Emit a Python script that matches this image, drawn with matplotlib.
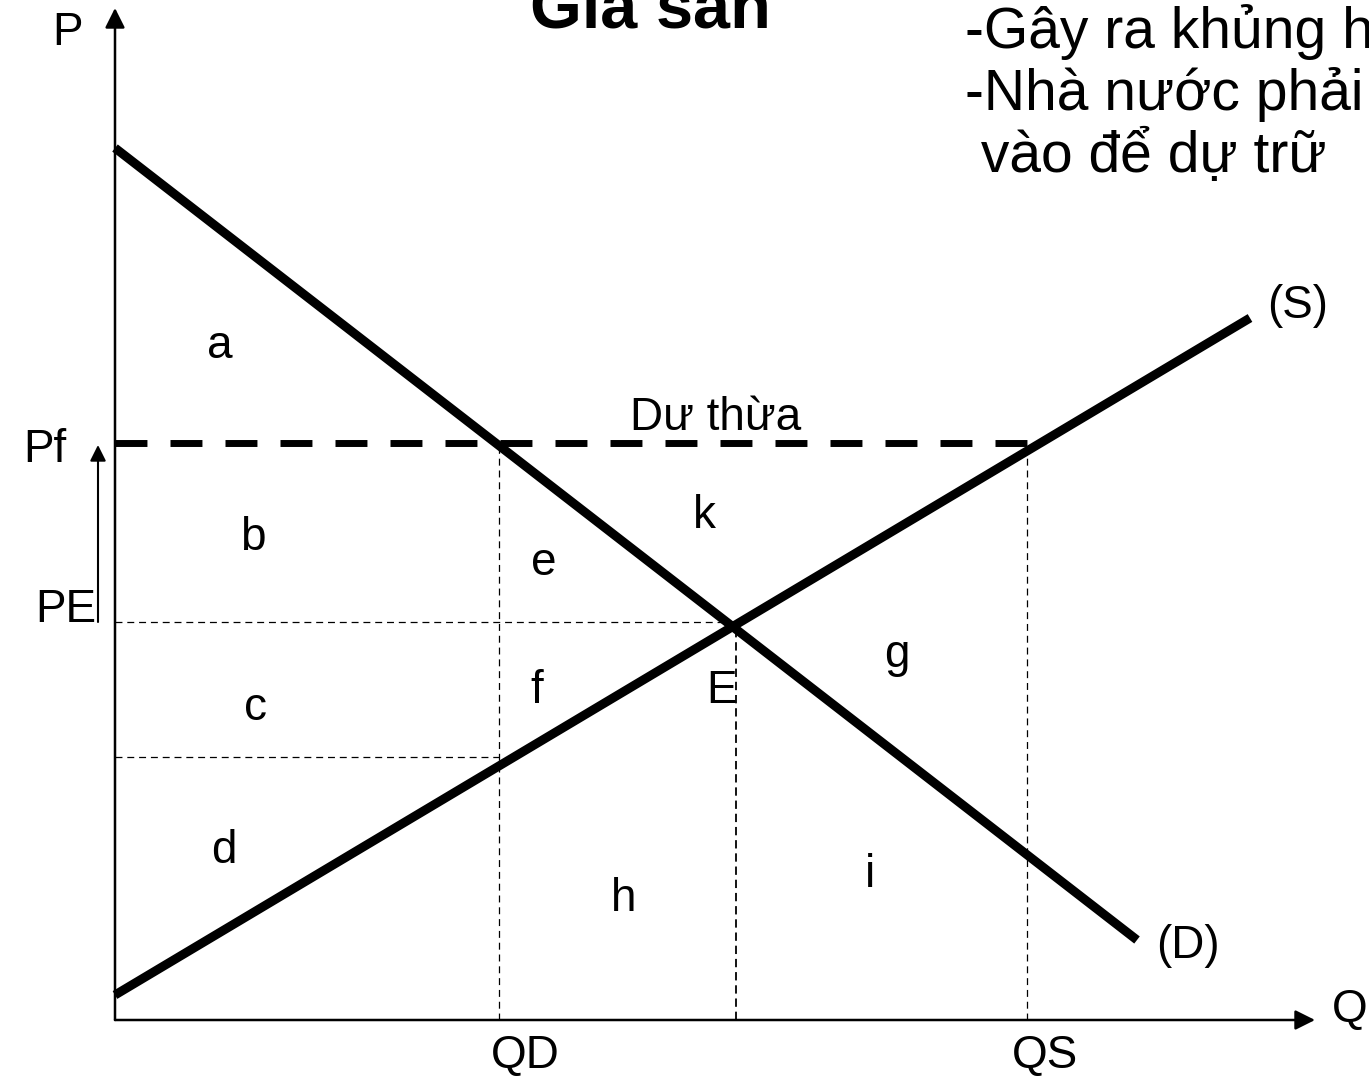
import matplotlib.pyplot as plt

plt.rcParams['font.family'] = ['Liberation Sans', 'DejaVu Sans']
plt.rcParams['lines.scale_dashes'] = False

# curves (Q, P) end points, origin at axis corner
demand_q = [0, 1022]
demand_p = [872, 80]
supply_q = [0, 1135]
supply_p = [25, 702]

Pf = 577
PE = 398
P_low = 263
QD = 384
QE = 621
QS = 912

area_labels = ['a', 'b', 'c', 'd', 'e', 'f', 'E', 'k', 'g', 'h', 'i']
area_q = [105, 138, 141, 109, 429, 422, 607, 589, 782, 509, 755]
area_p = [662, 470, 300, 157, 445, 317, 317, 492, 353, 109, 133]

title = 'Giá sàn'
notes = ['-Gây ra khủng hoảng thừa', '-Nhà nước phải mua', ' vào để dự trữ']

fig = plt.figure(figsize=(13.69, 10.76), dpi=100)
ax = fig.add_axes([0, 0, 1, 1])
ax.set_xlim(-115, 1254)
ax.set_ylim(-56, 1020)
ax.axis('off')

# axes with arrows
arr = dict(arrowstyle='-|>', mutation_scale=30, lw=1.8, color='black',
           shrinkA=0, shrinkB=0)
ax.annotate('', xy=(0, 1012), xytext=(0, 0), arrowprops=arr)
ax.annotate('', xy=(1200, 0), xytext=(0, 0), arrowprops=arr)
ax.annotate('', xy=(-17, 575), xytext=(-17, PE),
            arrowprops=dict(arrowstyle='-|>', mutation_scale=24, lw=1.5,
                            color='black', shrinkA=0, shrinkB=0))

# thin guide lines
thin = dict(color='black', lw=0.9, dashes=(5, 3.5))
ax.plot([0, QE], [PE, PE], **thin)
ax.plot([0, QD], [P_low, P_low], **thin)
ax.plot([QD, QD], [0, Pf], **thin)
ax.plot([QS, QS], [0, Pf], **thin)
ax.plot([QE, QE], [0, PE], color='black', lw=1.3, dashes=(6, 3.5))

# price floor
ax.plot([0, QS], [Pf, Pf], color='black', lw=5, dashes=(23, 16.6),
        solid_capstyle='butt', dash_capstyle='butt')

# demand and supply
ax.plot(demand_q, demand_p, color='black', lw=6.5, solid_capstyle='butt')
ax.plot(supply_q, supply_p, color='black', lw=6.5, solid_capstyle='butt')

fs = 33
ax.text(-47, 975, 'P', fontsize=fs, ha='center', va='baseline')
ax.text(-70, 558, 'Pf', fontsize=fs, ha='center', va='baseline')
ax.text(-49, 398, 'PE', fontsize=fs, ha='center', va='baseline')
ax.text(QD + 26, -48, 'QD', fontsize=fs, ha='center', va='baseline')
ax.text(QS + 18, -48, 'QS', fontsize=fs, ha='center', va='baseline')
ax.text(1235, -2, 'Q', fontsize=fs, ha='center', va='baseline')
ax.text(1183, 702, '(S)', fontsize=fs, ha='center', va='baseline')
ax.text(1073, 62, '(D)', fontsize=fs, ha='center', va='baseline')
ax.text(601, 590, 'Dư thừa', fontsize=fs, ha='center', va='baseline')

for lab, q, p in zip(area_labels, area_q, area_p):
    ax.text(q, p, lab, fontsize=fs, ha='center', va='baseline')

ax.text(535, 992, title, fontsize=48, fontweight='bold', ha='center',
        va='baseline')
for i, line in enumerate(notes):
    ax.text(850, 972 - 62 * i, line, fontsize=41, ha='left', va='baseline')

fig.savefig('out.png', dpi=100)
